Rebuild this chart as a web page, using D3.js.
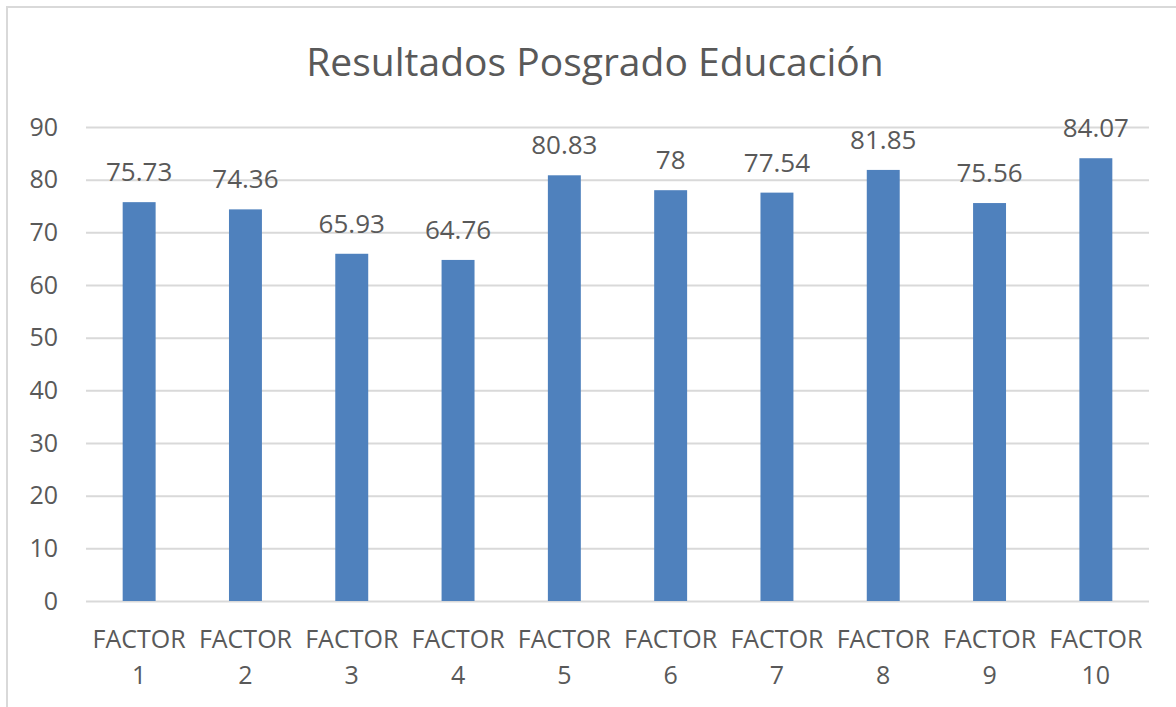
<html>
<script src='https://d3js.org/d3.v7.min.js'></script>
<style>
body {margin: 0; background: #fff;}
text {font-family: "Open Sans", sans-serif; fill: #595959;}
</style>
<body onload='init()'>
<svg width=1176 height=707>
</svg>
<script>
var categories = ["FACTOR 1","FACTOR 2","FACTOR 3","FACTOR 4","FACTOR 5","FACTOR 6","FACTOR 7","FACTOR 8","FACTOR 9","FACTOR 10"];
var values = [75.73, 74.36, 65.93, 64.76, 80.83, 78, 77.54, 81.85, 75.56, 84.07];
var labels = ["75.73","74.36","65.93","64.76","80.83","78","77.54","81.85","75.56","84.07"];
var yTicks = [0,10,20,30,40,50,60,70,80,90];

function init() {
var svg = d3.select("svg");

// chart frame (only top and left edges show in the crop)
svg.append("path").attr("d", "M7,707V7H1176")
   .attr("fill", "none").attr("stroke", "#d9d9d9").attr("stroke-width", 2);

var left = 86, right = 1149, top = 127, bottom = 601;

var x = d3.scaleBand().domain(categories).range([left, right]).paddingInner(0.69).paddingOuter(0.345);
var y = d3.scaleLinear().domain([0, 90]).range([bottom, top]);

svg.append("text").attr("x", 595).attr("y", 76).attr("text-anchor", "middle")
   .style("font-size", "39px").text("Resultados Posgrado Educación");

var yAxis = svg.append("g").attr("transform", "translate(" + left + ",0)")
   .call(d3.axisLeft(y).tickValues(yTicks).tickSize(-(right - left)).tickPadding(28));
yAxis.select(".domain").remove();
yAxis.selectAll("line").attr("stroke", "#d9d9d9").attr("stroke-width", 2);
yAxis.selectAll("text").style("font-size", "25px").attr("fill", "#595959")
   .style("font-family", '"Open Sans", sans-serif');

svg.selectAll("rect.bar").data(values).enter().append("rect")
   .attr("class", "bar")
   .attr("x", function(d, i){ return x(categories[i]); })
   .attr("width", x.bandwidth())
   .attr("y", function(d){ return y(d); })
   .attr("height", function(d){ return y(0) - y(d); })
   .attr("fill", "#4f81bd");

svg.selectAll("text.lab").data(values).enter().append("text")
   .attr("class", "lab")
   .attr("x", function(d, i){ return x(categories[i]) + x.bandwidth() / 2; })
   .attr("y", function(d){ return y(d) - 21; })
   .attr("text-anchor", "middle").style("font-size", "26px")
   .text(function(d, i){ return labels[i]; });

var cat = svg.selectAll("g.cat").data(categories).enter().append("g").attr("class", "cat")
   .attr("transform", function(d){ return "translate(" + (x(d) + x.bandwidth() / 2) + ",0)"; });
cat.append("text").attr("y", 648).attr("text-anchor", "middle").style("font-size", "25px")
   .text(function(d){ return d.split(" ")[0]; });
cat.append("text").attr("y", 684).attr("text-anchor", "middle").style("font-size", "25px")
   .text(function(d){ return d.split(" ")[1]; });
}
</script>
</body>
</html>
